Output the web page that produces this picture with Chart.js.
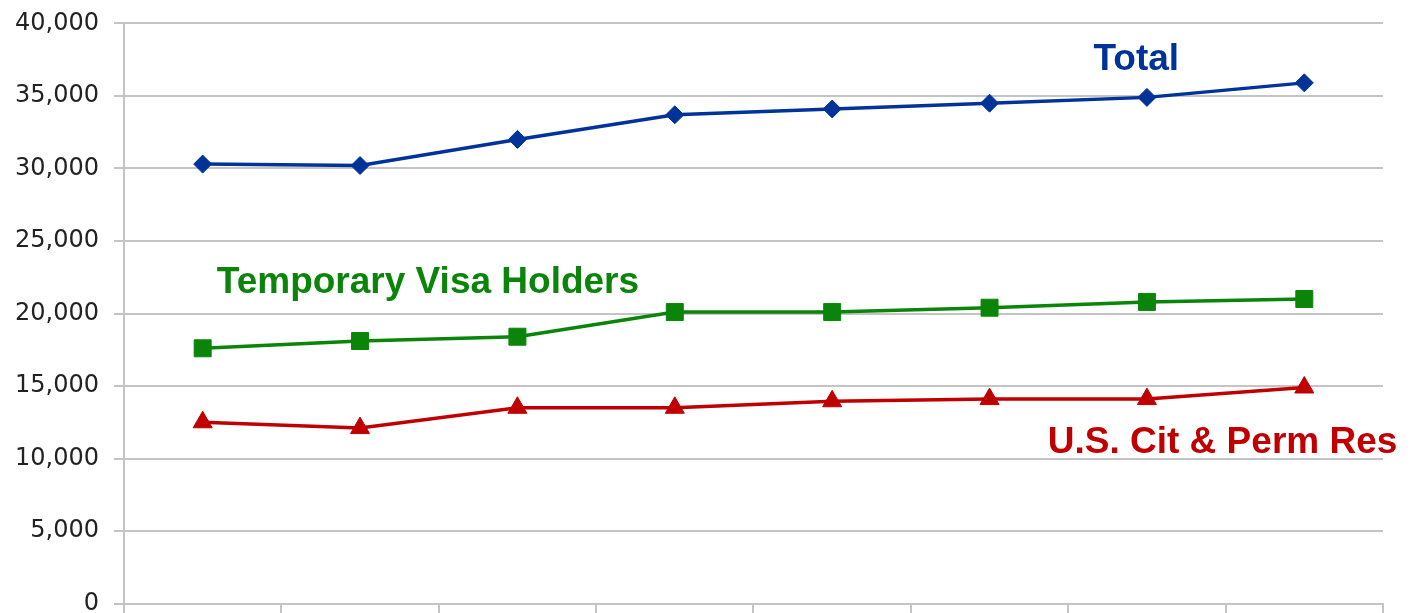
<!DOCTYPE html>
<html>
<head>
<meta charset="utf-8">
<script src="https://cdn.jsdelivr.net/npm/chart.js@4.4.1/dist/chart.umd.min.js"></script>
<style>
  html, body { margin: 0; padding: 0; background: #fff; overflow: hidden; }
  #wrap { width: 1411px; height: 639px; margin-top: -6px; position: relative; }
</style>
</head>
<body>
<div id="wrap"><canvas id="chart"></canvas></div>
<script>
// --- DATA ---
const categories = ['2001', '2002', '2003', '2004', '2005', '2006', '2007', '2008'];
const totalValues = [30300, 30200, 32000, 33700, 34100, 34500, 34900, 35900];
const tempVisaValues = [17600, 18100, 18400, 20100, 20100, 20400, 20800, 21000];
const citizenValues = [12500, 12100, 13500, 13500, 13950, 14100, 14100, 14900];
const yTicks = [0, 5000, 10000, 15000, 20000, 25000, 30000, 35000, 40000];

const gridColor = '#c4c4c4';

// series labels placed in data units (category index, value at baseline)
const seriesLabels = [
    { text: 'Total', color: '#003399', x: 5.66, y: 36770 },
    { text: 'Temporary Visa Holders', color: '#0a850a', x: 0.09, y: 21440 },
    { text: 'U.S. Cit & Perm Res', color: '#c00000', x: 5.37, y: 10380 }
];

const labelPlugin = {
    id: 'seriesLabels',
    afterDatasetsDraw(chart) {
        const { ctx, scales } = chart;
        ctx.save();
        ctx.font = 'bold 37px "Liberation Sans", Arial, sans-serif';
        ctx.textAlign = 'left';
        ctx.textBaseline = 'alphabetic';
        seriesLabels.forEach(l => {
            ctx.fillStyle = l.color;
            ctx.fillText(l.text, scales.x.getPixelForValue(l.x), scales.y.getPixelForValue(l.y));
        });
        ctx.restore();
    }
};

new Chart(document.getElementById('chart').getContext('2d'), {
    type: 'line',
    data: {
        labels: categories,
        datasets: [
            { label: 'Total', data: totalValues, borderColor: '#003399', backgroundColor: '#003399',
              borderWidth: 3.5, pointStyle: 'rectRot', pointRadius: 9, pointBorderWidth: 1, tension: 0 },
            { label: 'Temporary Visa Holders', data: tempVisaValues, borderColor: '#0a850a', backgroundColor: '#0a850a',
              borderWidth: 3.5, pointStyle: 'rect', pointRadius: 12, pointBorderWidth: 1, tension: 0 },
            { label: 'U.S. Cit & Perm Res', data: citizenValues, borderColor: '#c00000', backgroundColor: '#c00000',
              borderWidth: 3.5, pointStyle: 'triangle', pointRadius: 11, pointBorderWidth: 1, tension: 0 }
        ]
    },
    options: {
        responsive: true,
        maintainAspectRatio: false,
        animation: false,
        layout: { padding: { left: 0, right: 28, top: 2, bottom: 0 } },
        plugins: { legend: { display: false }, tooltip: { enabled: false } },
        scales: {
            x: {
                offset: true,
                grid: { offset: true, drawOnChartArea: false, drawTicks: true, tickLength: 10, color: gridColor, lineWidth: 2 },
                border: { display: true, color: gridColor, width: 2 },
                ticks: { display: false }
            },
            y: {
                min: 0,
                max: 40000,
                afterBuildTicks: axis => { axis.ticks = yTicks.map(v => ({ value: v })); },
                grid: { color: gridColor, lineWidth: 2, tickLength: 10 },
                border: { display: true, color: gridColor, width: 2 },
                ticks: {
                    padding: 15,
                    color: '#222',
                    font: { family: '"DejaVu Sans", Verdana, sans-serif', size: 24 },
                    callback: v => v.toLocaleString('en-US')
                }
            }
        }
    },
    plugins: [labelPlugin]
});
</script>
</body>
</html>
